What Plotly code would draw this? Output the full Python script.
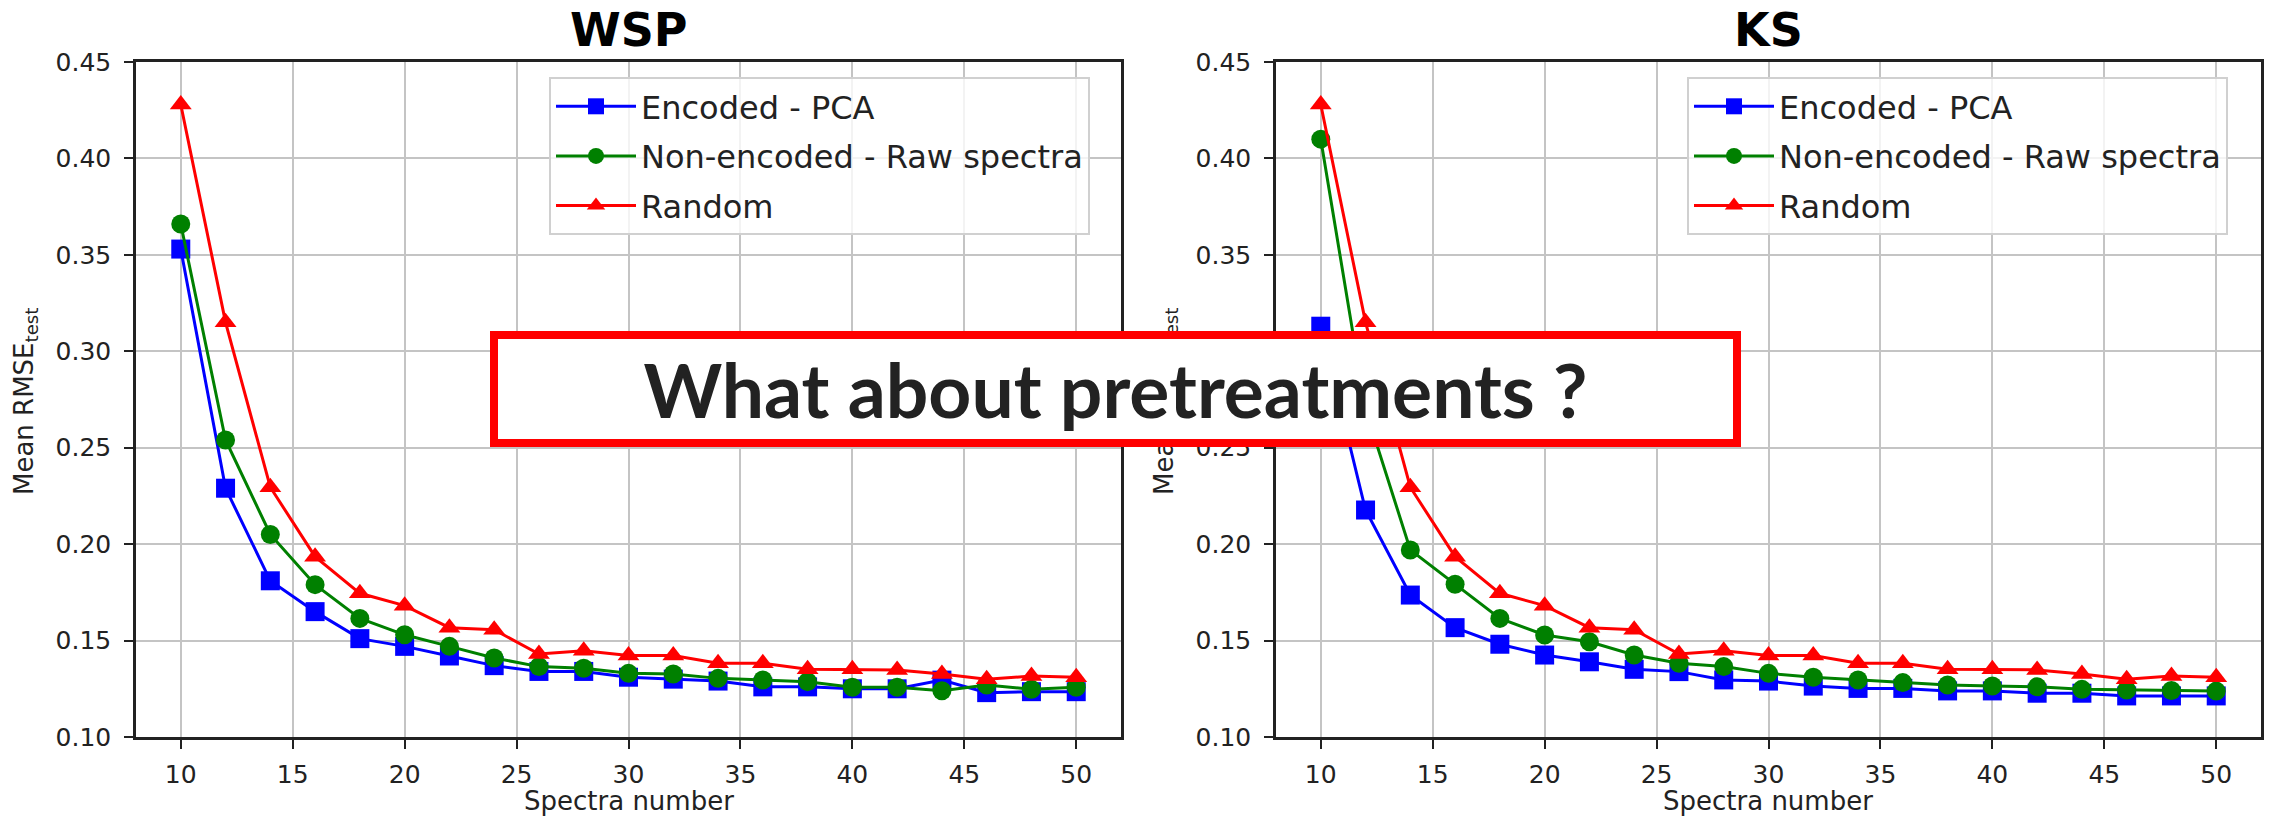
import plotly.graph_objects as go

W, H = 2270, 818

# ---------------- data ----------------
spectra_number = [10, 12, 14, 16, 18, 20, 22, 24, 26, 28, 30, 32, 34, 36, 38, 40, 42, 44, 46, 48, 50]

wsp_encoded_pca = [0.353, 0.229, 0.181, 0.165, 0.151, 0.147, 0.142, 0.137, 0.134, 0.134, 0.131, 0.130, 0.129,
                   0.126, 0.126, 0.125, 0.125, 0.1295, 0.123, 0.1235, 0.1235]
wsp_non_encoded = [0.366, 0.254, 0.205, 0.179, 0.1615, 0.153, 0.147, 0.141, 0.1365, 0.1356, 0.133, 0.1327, 0.1304,
                   0.1296, 0.1287, 0.1258, 0.1258, 0.124, 0.127, 0.1247, 0.1258]
random_sel = [0.428, 0.315, 0.2295, 0.1935, 0.1745, 0.1681, 0.1567, 0.1556, 0.143, 0.1447, 0.1422, 0.1422, 0.1382,
              0.1382, 0.1351, 0.1351, 0.1348, 0.1327, 0.1299, 0.1316, 0.131]

ks_encoded_pca = [0.313, 0.2177, 0.1736, 0.1567, 0.1481, 0.1425, 0.139, 0.1351, 0.1339, 0.1296, 0.129, 0.1264,
                  0.1252, 0.1252, 0.1239, 0.1239, 0.1227, 0.1227, 0.1213, 0.1213, 0.1213]
ks_non_encoded = [0.410, 0.270, 0.197, 0.1792, 0.1615, 0.1529, 0.1494, 0.1425, 0.1382, 0.1365, 0.133, 0.131,
                  0.1296, 0.1282, 0.127, 0.1264, 0.126, 0.1247, 0.1244, 0.1241, 0.1238]

series_names = ["Encoded - PCA", "Non-encoded - Raw spectra", "Random"]
series_colors = ["#0000ff", "#008000", "#ff0000"]
series_symbols = ["square", "circle", "triangle-up"]

panel_titles = ["WSP", "KS"]
x_ticks = [10, 15, 20, 25, 30, 35, 40, 45, 50]
y_ticks = [0.10, 0.15, 0.20, 0.25, 0.30, 0.35, 0.40, 0.45]
x_label = "Spectra number"
y_label = "Mean RMSE<sub>test</sub>"
overlay_text = "What about pretreatments ?"

# ---------------- figure ----------------
def px_x(x):
    return x / W

def px_y(y):
    return 1 - y / H

fig = go.Figure()

panels = [
    ([wsp_encoded_pca, wsp_non_encoded, random_sel], "x", "y", "legend", "a"),
    ([ks_encoded_pca, ks_non_encoded, random_sel], "x2", "y2", "legend2", "b"),
]
for series, xa, ya, lg, tag in panels:
    for i, (vals, name, col, sym) in enumerate(zip(series, series_names, series_colors, series_symbols)):
        fig.add_trace(go.Scatter(
            x=spectra_number, y=vals, name=name, mode="lines+markers",
            line=dict(color=col, width=3),
            marker=dict(color=col, symbol=sym, size=19, line=dict(width=0)),
            xaxis=xa, yaxis=ya, legend=lg, legendgroup=f"{tag}{i}",
        ))

font_main = "DejaVu Sans"
txt_col = "#222222"

axis_common = dict(
    showline=True, linecolor="#222222", linewidth=2.5, mirror=True,
    ticks="outside", ticklen=9, tickwidth=2, tickcolor="#222222",
    tickfont=dict(family=font_main, size=25, color=txt_col),
    showgrid=True, gridcolor="#c4c4c4", gridwidth=2,
    zeroline=False, automargin=False,
)

dom_y = [px_y(737), px_y(62)]
fig.update_layout(
    template="none",
    width=W, height=H,
    margin=dict(l=0, r=0, t=0, b=0),
    paper_bgcolor="white", plot_bgcolor="white",
    showlegend=True,
    xaxis=dict(domain=[px_x(136), px_x(1121)], range=[8, 52], tickvals=x_ticks, anchor="y",
               ticklabelstandoff=4, **axis_common),
    yaxis=dict(domain=dom_y, range=[0.10, 0.45], tickvals=y_ticks, tickformat=".2f", anchor="x",
               ticklabelstandoff=8, **axis_common),
    xaxis2=dict(domain=[px_x(1276), px_x(2261)], range=[8, 52], tickvals=x_ticks, anchor="y2",
                ticklabelstandoff=4, **axis_common),
    yaxis2=dict(domain=dom_y, range=[0.10, 0.45], tickvals=y_ticks, tickformat=".2f", anchor="x2",
                ticklabelstandoff=8, **axis_common),
)

legend_common = dict(
    bgcolor="rgba(255,255,255,0.8)", bordercolor="#d0d0d0", borderwidth=2,
    font=dict(family=font_main, size=32, color=txt_col),
    xanchor="left", yanchor="top", itemwidth=80, tracegroupgap=5,
)
fig.update_layout(
    legend=dict(x=px_x(549), y=px_y(77), **legend_common),
    legend2=dict(x=px_x(1687), y=px_y(77), **legend_common),
)

annotations = []
# panel titles
for title, cx in zip(panel_titles, [628.5, 1768]):
    annotations.append(dict(text=f"<b>{title}</b>", x=px_x(cx), y=px_y(30), xref="paper", yref="paper",
                            showarrow=False, xanchor="center", yanchor="middle",
                            font=dict(family=font_main, size=46, color="black")))
# x labels
for cx in [628.5, 1768]:
    annotations.append(dict(text=x_label, x=px_x(cx), y=px_y(801), xref="paper", yref="paper",
                            showarrow=False, xanchor="center", yanchor="middle",
                            font=dict(family=font_main, size=26, color=txt_col)))
# y labels
for cx in [25, 1165]:
    annotations.append(dict(text=y_label, x=px_x(cx), y=px_y(402), xref="paper", yref="paper",
                            showarrow=False, xanchor="center", yanchor="middle", textangle=-90,
                            font=dict(family=font_main, size=26, color=txt_col)))
# overlay box (drawn last so it sits on top)
annotations.append(dict(text=overlay_text, x=px_x(1115.5), y=px_y(389), xref="paper", yref="paper",
                        showarrow=False, xanchor="center", yanchor="middle",
                        width=1235, height=100, align="center", valign="middle",
                        bgcolor="white", bordercolor="#ff0000", borderwidth=8, borderpad=0,
                        font=dict(family="Lato", size=75, color=txt_col, weight=700)))
fig.update_layout(annotations=annotations)

fig.write_html("out.html")
